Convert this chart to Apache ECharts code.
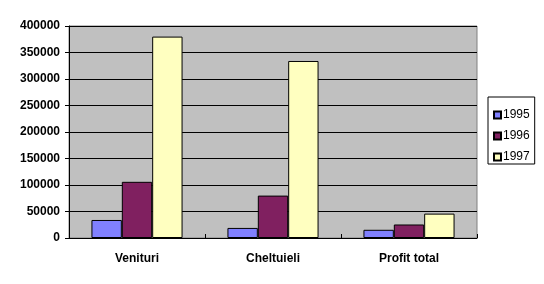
<!DOCTYPE html>
<html><head><meta charset="utf-8">
<script src="https://cdn.jsdelivr.net/npm/echarts@6/dist/echarts.min.js"></script>
<style>html,body{margin:0;padding:0;background:#fff}#c{width:544px;height:284px}</style>
</head><body><div id="c"></div>
<script>
var categories = ['Venituri', 'Cheltuieli', 'Profit total'];
var seriesNames = ['1995', '1996', '1997'];
var v1995 = [34000, 19000, 15500];
var v1996 = [106000, 80000, 25500];
var v1997 = [380000, 334000, 46000];
var colors = ['#8080ff', '#802060', '#ffffc0'];
var yMin = 0, yMax = 400000, yStep = 50000;

var chart = echarts.init(document.getElementById('c'), null, {renderer: 'canvas'});
var data = [v1995, v1996, v1997];
chart.setOption({
  animation: false,
  backgroundColor: '#ffffff',
  textStyle: {fontFamily: 'Liberation Sans, Arial, sans-serif'},
  grid: {left: 69, right: 67, top: 26, bottom: 46, show: true, backgroundColor: '#c0c0c0', borderColor: '#808080', borderWidth: 1},
  legend: {
    orient: 'vertical', left: 488, top: 97,
    data: seriesNames,
    icon: 'rect', itemWidth: 7, itemHeight: 7, itemGap: 9,
    padding: [12, 5, 1, 5],
    borderColor: '#000', borderWidth: 1, backgroundColor: '#fff',
    textStyle: {fontSize: 12, color: '#000', fontFamily: 'Liberation Sans, Arial, sans-serif', padding: [0, 0, 0, -3]}
  },
  xAxis: {
    type: 'category', data: categories,
    axisLine: {lineStyle: {color: '#000', width: 1}},
    axisTick: {show: true, inside: true, length: 4, lineStyle: {color: '#000'}},
    axisLabel: {fontSize: 12, fontWeight: 'bold', color: '#000', margin: 15}
  },
  yAxis: {
    type: 'value', min: yMin, max: yMax, interval: yStep,
    axisLine: {show: true, lineStyle: {color: '#000', width: 1}},
    axisTick: {show: true, length: 4, lineStyle: {color: '#000'}},
    splitLine: {lineStyle: {color: '#000', width: 1}},
    axisLabel: {fontSize: 12, fontWeight: 'bold', color: '#000', margin: 9, formatter: function (v) { return String(v); }}
  },
  series: seriesNames.map(function (n, i) {
    return {
      name: n, type: 'bar', data: data[i],
      barGap: '0%', barCategoryGap: '33%',
      itemStyle: {color: colors[i], borderColor: '#000', borderWidth: 1}
    };
  })
});
</script></body></html>
